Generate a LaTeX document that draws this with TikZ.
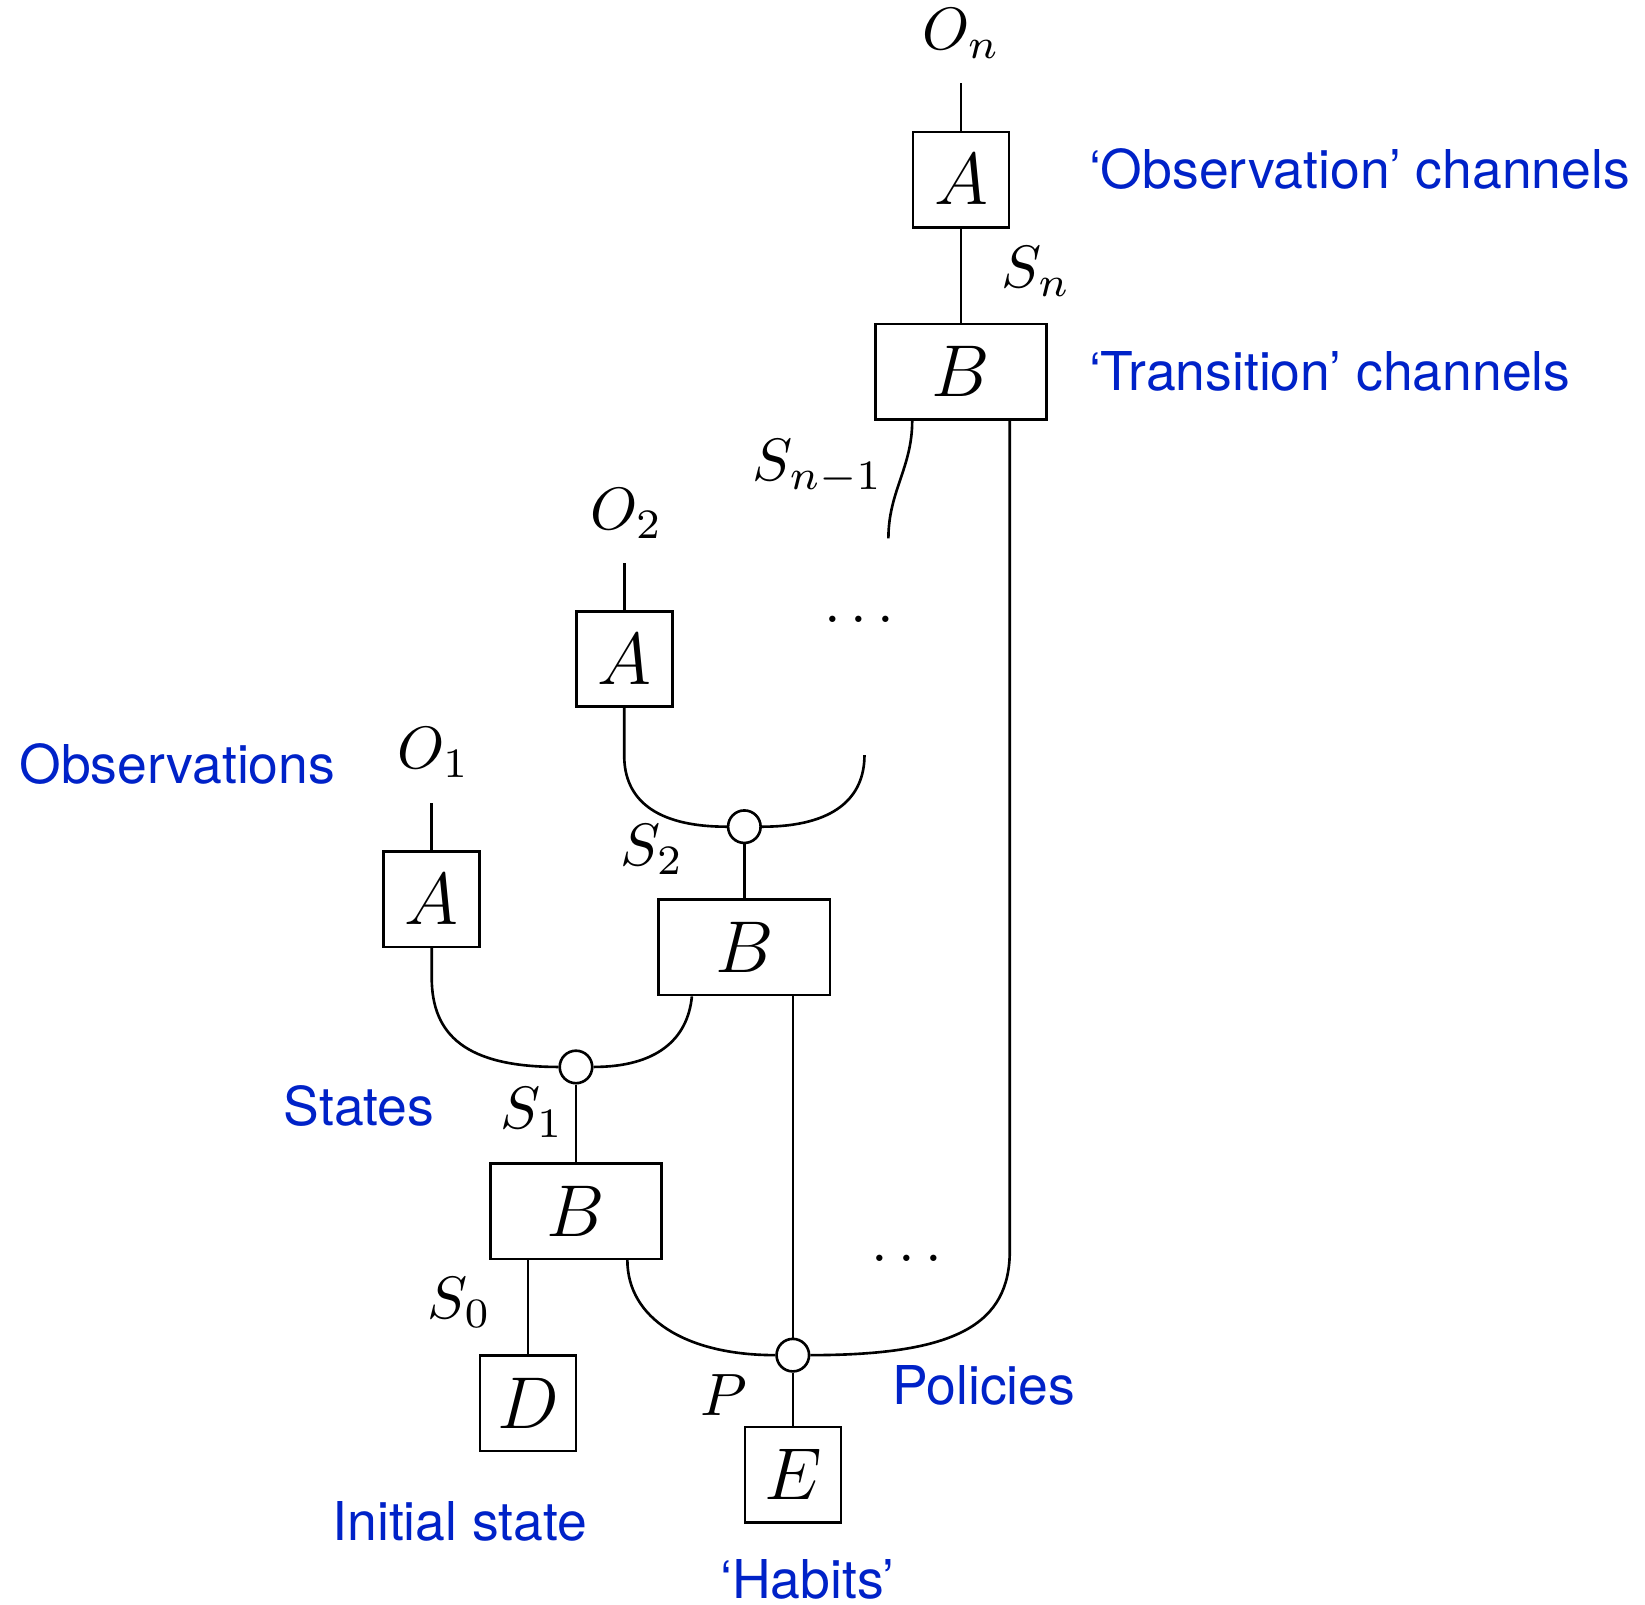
\RequirePackage{fix-cm}
\documentclass[tikz,border=0pt]{standalone}
\usepackage{fontspec}
\newfontfamily\heros{TeX Gyre Heros}
\usetikzlibrary{calc}
\definecolor{noteblue}{RGB}{0,34,200}

\tikzset{
  wire/.style={line width=0.5pt},
  box/.style={draw, line width=0.5pt, minimum height=18.2pt, inner sep=0pt,
              fill=white, font=\fontsize{14}{16}\selectfont},
  abox/.style={box, minimum width=18.3pt},
  bbox/.style={box, minimum width=32.7pt},
  joint/.style={circle, draw, fill=white, line width=0.5pt, minimum size=6.2pt, inner sep=0pt},
  lbl/.style={inner sep=0pt, anchor=base west, font=\fontsize{11.4}{13}\selectfont},
  dotsl/.style={inner sep=0pt, anchor=base, font=\fontsize{11.4}{13}\selectfont},
  note/.style={inner sep=0pt, anchor=base west, text=noteblue,
               font=\heros\fontsize{10.2}{12}\selectfont},
}

\begin{document}
\begin{tikzpicture}[x=0.2pt,y=-0.2pt]
\useasboundingbox (0,0) rectangle (1568,1529);

% channels and joints
\node[abox] (An) at (916,171.3) {$A$};
\node[bbox] (Bn) at (916,354.2) {$B$};
\node[abox] (A2) at (595,628.2) {$A$};
\node[joint] (c2) at (709.5,788) {};
\node[bbox] (B2) at (709.5,903) {$B$};
\node[abox] (A1) at (411.5,857) {$A$};
\node[joint] (c1) at (549,1017) {};
\node[bbox] (B1) at (549,1154.4) {$B$};
\node[abox] (D) at (503.3,1337.5) {$D$};
\node[joint] (c0) at (755.7,1291.7) {};
\node[abox] (E) at (755.7,1405.7) {$E$};

% open wire ends
\coordinate (On) at (916,79.4);
\coordinate (O2) at (595,537);
\coordinate (O1) at (411.5,765.8);
\coordinate (Snm) at (846.8,513.2);
\coordinate (Sin) at (824,719.7);

% wires
\draw[wire] (On) -- (An.north);
\draw[wire] (An.south) -- (Bn.north);
\draw[wire] ($(Bn.south west)+(36.5,0)$) to[out=-90,in=90] (Snm);
\draw[wire] ($(Bn.south east)+(-36.5,0)$) -- ++(0,791) .. controls +(0,70) and +(140,0) .. (c0.east);
\draw[wire] (O2) -- (A2.north);
\draw[wire] (A2.south) -- ++(0,45.4) .. controls +(0,40) and +(-70,0) .. (c2.west);
\draw[wire] (Sin) .. controls +(0,40) and +(70,0) .. (c2.east);
\draw[wire] (c2.south) -- (B2.north);
\draw[wire] (O1) -- (A1.north);
\draw[wire] (A1.south) -- ++(0,28) .. controls +(0,55) and +(-88,0) .. (c1.west);
\draw[wire] ($(B2.south west)+(33,0)$) .. controls +(-4,41) and +(60,0) .. (c1.east);
\draw[wire] (c1.south) -- (B1.north);
\draw[wire] (B1.south -| D.north) -- (D.north);
\draw[wire] ($(B1.south east)+(-34,0)$) .. controls +(0,55) and +(-86,0) .. (c0.west);
\draw[wire] (B2.south -| c0.north) -- (c0.north);
\draw[wire] (c0.south) -- (E.north);

% wire labels
\node[lbl] (lOn) at (878,47.5) {$O_n$};
\node[lbl] (lSn) at (953.9,274.5) {$S_n$};
\node[lbl] (lSnm) at (716.6,457.6) {$S_{n-1}$};
\node[lbl] (lO2) at (561.8,504.5) {$O_2$};
\node[lbl] (lO1) at (378,733) {$O_1$};
\node[lbl] (lS2) at (590.4,824.6) {$S_2$};
\node[lbl] (lS1) at (476,1075.6) {$S_1$};
\node[lbl] (lS0) at (406.9,1256.8) {$S_0$};
\node[lbl] (lP) at (667,1349) {$P$};
\node[dotsl] (dtop) at (819,593) {$\dots$};
\node[dotsl] (dbot) at (864.4,1202.5) {$\dots$};

% annotations
\node[note] (nObsCh) at (1037,179.5) {‘Observation’ channels};
\node[note] (nTrCh) at (1037,371.8) {‘Transition’ channels};
\node[note] (nObs) at (17.5,746.8) {Observations};
\node[note] (nSt) at (269.5,1072.5) {States};
\node[note] (nInit) at (316,1468) {Initial state};
\node[note] (nPol) at (849.4,1338.4) {Policies};
\node[note] (nHab) at (685.6,1523.7) {‘Habits’};
\end{tikzpicture}
\end{document}
